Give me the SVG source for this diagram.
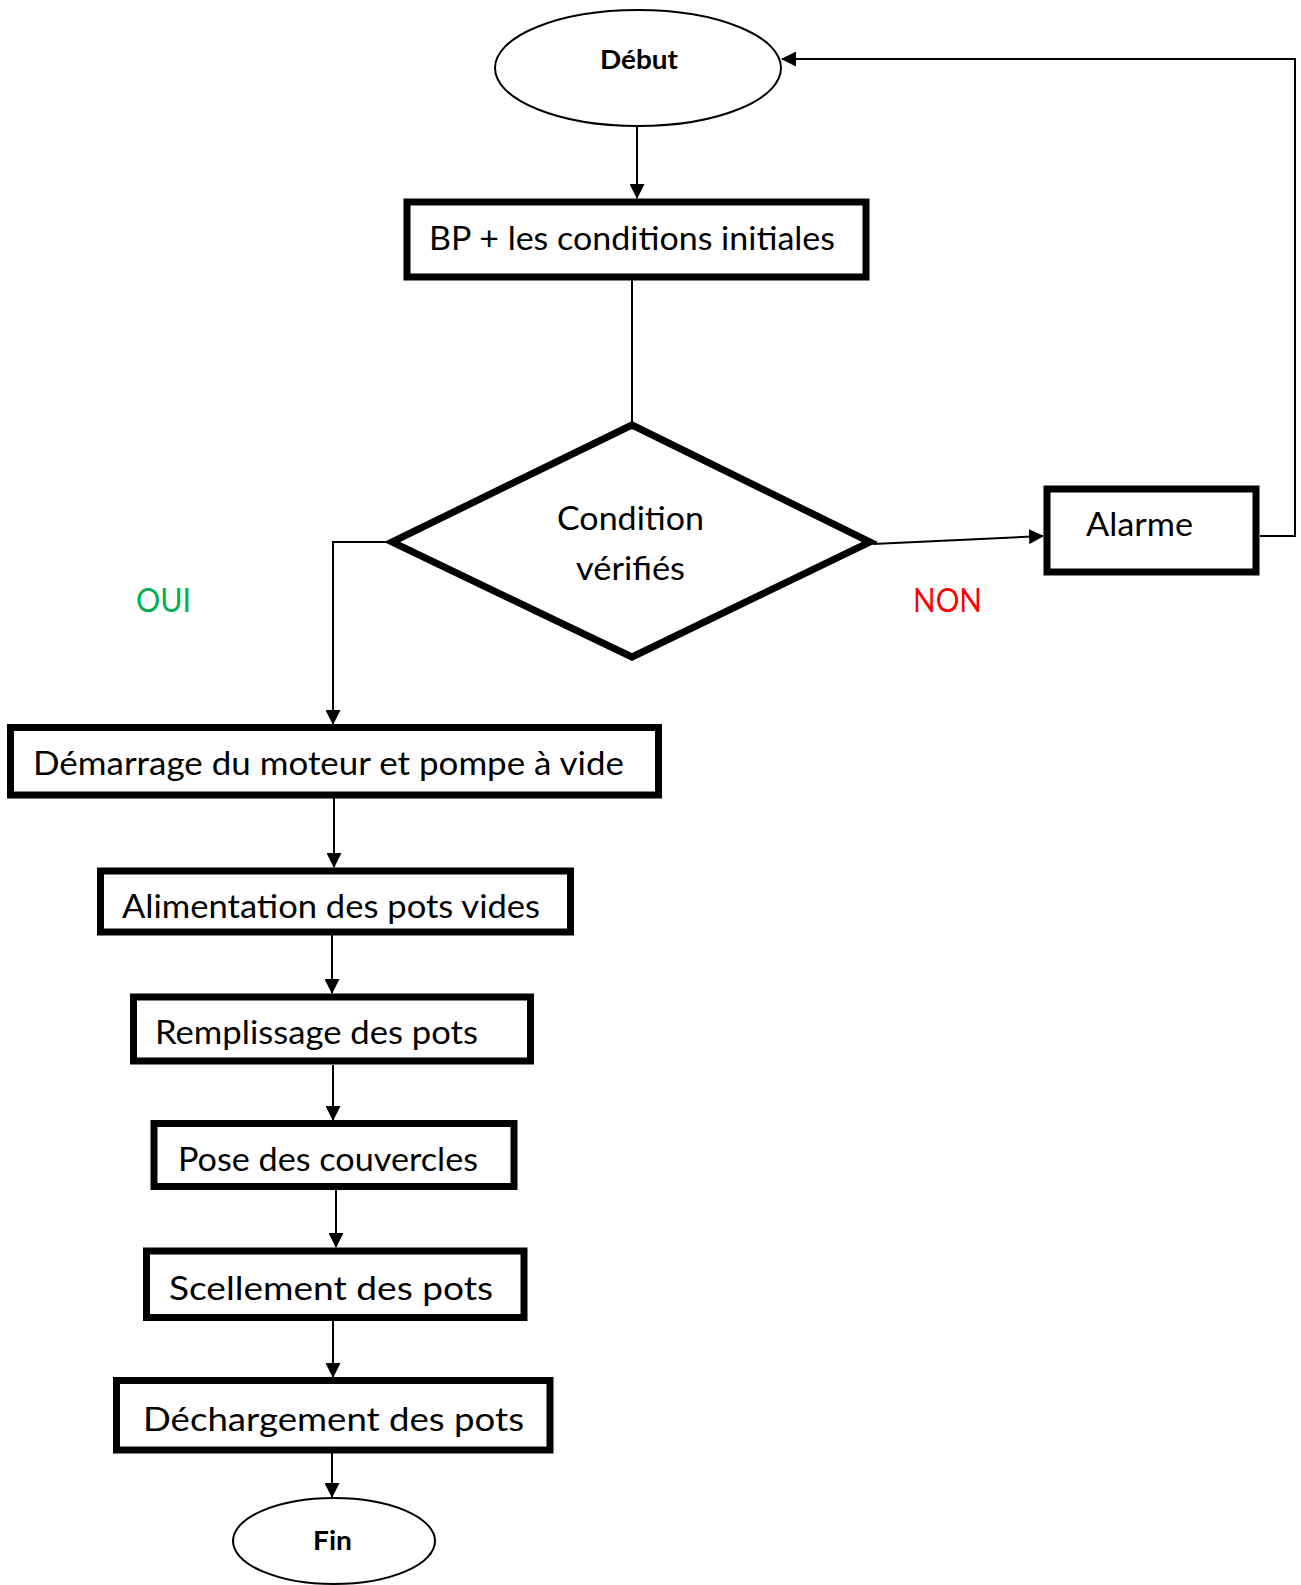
<svg xmlns="http://www.w3.org/2000/svg" width="1301" height="1585" viewBox="0 0 1301 1585">
  <style>
    .box { fill: #fff; stroke: #000; stroke-width: 7; }
    .term { fill: #fff; stroke: #000; stroke-width: 2; }
    .lbl { font-family: Lato, "Open Sans", sans-serif; font-size: 32px; fill: #000; }
    .bold { font-family: Lato, "Open Sans", sans-serif; font-size: 26px; font-weight: bold; fill: #000; }
    .wire { fill: none; stroke: #000; stroke-width: 2; }
  </style>
  <defs>
    <marker id="arrow" markerUnits="userSpaceOnUse" markerWidth="15" markerHeight="15" refX="14" refY="7.5" orient="auto">
      <path d="M0,0 L15,7.5 L0,15 Z" fill="#000"/>
    </marker>
    <clipPath id="clipAlim">
      <rect x="104" y="875" width="463" height="53"/>
    </clipPath>
  </defs>

  <!-- connectors -->
  <g id="connectors">
    <line class="wire" x1="637" y1="126" x2="637" y2="198" marker-end="url(#arrow)"/>
    <line class="wire" x1="632" y1="280" x2="632" y2="423"/>
    <polyline class="wire" points="391,542 333,542 333,724" marker-end="url(#arrow)"/>
    <line class="wire" x1="873" y1="544" x2="1043" y2="536" marker-end="url(#arrow)"/>
    <polyline class="wire" points="1260,536 1295,536 1295,59 782,59" marker-end="url(#arrow)"/>
    <line class="wire" x1="334" y1="798" x2="334" y2="867" marker-end="url(#arrow)"/>
    <line class="wire" x1="332" y1="935" x2="332" y2="993" marker-end="url(#arrow)"/>
    <line class="wire" x1="333" y1="1065" x2="333" y2="1120" marker-end="url(#arrow)"/>
    <line class="wire" x1="336" y1="1190" x2="336" y2="1247" marker-end="url(#arrow)"/>
    <line class="wire" x1="333" y1="1321" x2="333" y2="1377" marker-end="url(#arrow)"/>
    <line class="wire" x1="332" y1="1453" x2="332" y2="1497" marker-end="url(#arrow)"/>
  </g>

  <g id="debut">
    <ellipse class="term" cx="638" cy="68" rx="143" ry="58"/>
    <text class="bold" x="600" y="69" textLength="78" lengthAdjust="spacingAndGlyphs">Début</text>
  </g>

  <g id="bp">
    <rect class="box" x="407" y="202" width="459" height="75"/>
    <text class="lbl" x="429" y="250" textLength="406" lengthAdjust="spacingAndGlyphs">BP + les conditions initiales</text>
  </g>

  <g id="condition">
    <polygon class="box" points="632,425 870,542 632,657 392,542"/>
    <text class="lbl" x="557" y="530" textLength="147" lengthAdjust="spacingAndGlyphs">Condition</text>
    <text class="lbl" x="576" y="580" textLength="109" lengthAdjust="spacingAndGlyphs">vérifiés</text>
  </g>

  <g id="alarme">
    <rect class="box" x="1047" y="489" width="209" height="83"/>
    <text class="lbl" x="1086" y="536" textLength="107" lengthAdjust="spacingAndGlyphs">Alarme</text>
  </g>

  <g id="labels">
    <text class="lbl" x="913" y="612" style="fill:#FF0000" textLength="69" lengthAdjust="spacingAndGlyphs">NON</text>
    <text class="lbl" x="136" y="612" style="fill:#00B050" textLength="55" lengthAdjust="spacingAndGlyphs">OUI</text>
  </g>

  <g id="demarrage">
    <rect class="box" x="10.5" y="727.5" width="648" height="67.5"/>
    <text class="lbl" x="33" y="775" textLength="591" lengthAdjust="spacingAndGlyphs">Démarrage du moteur et pompe à vide</text>
  </g>

  <g id="alimentation">
    <rect class="box" x="100.5" y="871" width="470" height="61"/>
    <text class="lbl" x="122" y="918" textLength="418" lengthAdjust="spacingAndGlyphs" clip-path="url(#clipAlim)">Alimentation des pots vides</text>
  </g>

  <g id="remplissage">
    <rect class="box" x="133.5" y="997" width="397" height="64"/>
    <text class="lbl" x="155" y="1044" textLength="323" lengthAdjust="spacingAndGlyphs">Remplissage des pots</text>
  </g>

  <g id="pose">
    <rect class="box" x="154" y="1123.5" width="360" height="63"/>
    <text class="lbl" x="178" y="1171" textLength="300" lengthAdjust="spacingAndGlyphs">Pose des couvercles</text>
  </g>

  <g id="scellement">
    <rect class="box" x="146.5" y="1251" width="377.5" height="66.5"/>
    <text class="lbl" x="169" y="1300" textLength="324" lengthAdjust="spacingAndGlyphs">Scellement des pots</text>
  </g>

  <g id="dechargement">
    <rect class="box" x="116.5" y="1380.5" width="433.5" height="69.5"/>
    <text class="lbl" x="143" y="1431" textLength="381" lengthAdjust="spacingAndGlyphs">Déchargement des pots</text>
  </g>

  <g id="fin">
    <ellipse class="term" cx="334" cy="1541" rx="101" ry="43"/>
    <text class="bold" x="313" y="1550" textLength="39" lengthAdjust="spacingAndGlyphs">Fin</text>
  </g>
</svg>
